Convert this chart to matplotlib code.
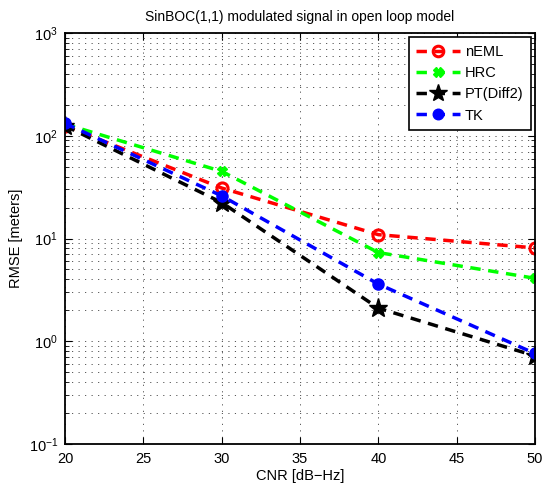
import matplotlib
matplotlib.use("Agg")
import matplotlib.pyplot as plt
from matplotlib.ticker import LogLocator, NullFormatter

cnr = [20, 30, 40, 50]
neml = [125, 31, 10.9, 8.1]
hrc = [130, 45, 7.3, 4.1]
pt = [125, 22.4, 2.1, 0.72]
tk = [132, 26, 3.6, 0.76]
labels = ["nEML", "HRC", "PT(Diff2)", "TK"]

plt.rcParams['font.family'] = ['Liberation Sans', 'DejaVu Sans']
fig = plt.figure(figsize=(5.52, 4.9), dpi=100)
ax = fig.add_axes([65/552, 46/490, 470/552, 411/490])

ax.plot(cnr, neml, 'r--', lw=2.5, marker='o', ms=8, mfc='none', mew=2.2, label=labels[0], dashes=(3, 2.2))
ax.plot(cnr, hrc, color='#00ff00', ls='--', lw=2.5, marker='X', ms=7, label=labels[1], dashes=(3, 2.2))
ax.plot(cnr, pt, 'k--', lw=2.5, marker='*', ms=14, label=labels[2], dashes=(3, 2.2))
ax.plot(cnr, tk, 'b--', lw=2.5, marker='o', ms=8, label=labels[3], dashes=(3, 2.2))

ax.set_yscale('log')
ax.set_xlim(20, 50)
ax.set_ylim(0.1, 1000)
ax.set_xticks([20, 25, 30, 35, 40, 45, 50])
ax.yaxis.set_minor_locator(LogLocator(base=10, subs=range(2, 10), numticks=20))
ax.yaxis.set_minor_formatter(NullFormatter())
ax.grid(True, which='major', color='#555555', lw=0.7, dashes=(1.2, 5.5))
ax.grid(True, which='minor', axis='y', color='#555555', lw=0.7, dashes=(1.2, 5.5))
ax.tick_params(direction='in', which='both', top=True, right=True, labelsize=10.5)
ax.tick_params(which='major', length=5)
ax.tick_params(which='minor', length=3)
ax.tick_params(axis='x', pad=6)
ax.tick_params(axis='y', pad=5)
for s in ax.spines.values():
    s.set_linewidth(1.3)

ax.set_xlabel('CNR [dB\u2212Hz]', fontsize=10.5, labelpad=2)
ax.set_ylabel('RMSE [meters]', fontsize=10.5, labelpad=4)
ax.set_title('SinBOC(1,1) modulated signal in open loop model', fontsize=10, pad=9)

leg = ax.legend(loc='upper right', fontsize=10.5, frameon=True, fancybox=False,
                edgecolor='black', framealpha=1, handlelength=3.0, handletextpad=0.35,
                borderaxespad=0.3, labelspacing=0.5, borderpad=0.5, markerscale=0.95)
leg.get_frame().set_linewidth(1.2)

fig.savefig('out.png', dpi=100)
